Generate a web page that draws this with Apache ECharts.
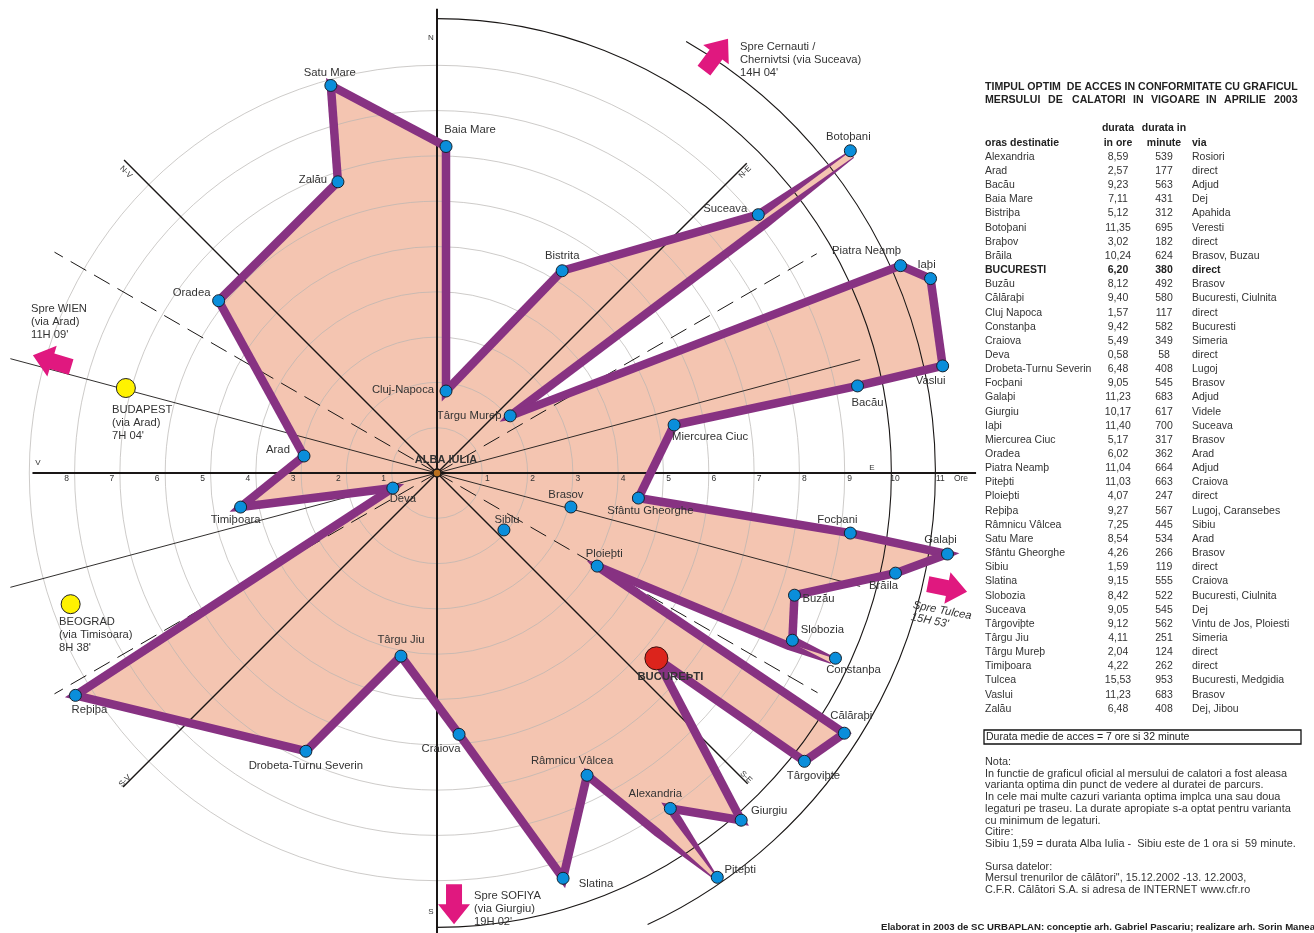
<!DOCTYPE html>
<html>
<head>
<meta charset="utf-8">
<title>Timpul optim de acces</title>
<script src="https://cdn.jsdelivr.net/npm/echarts@6/dist/echarts.min.js"></script>
<style>
  html, body { margin: 0; padding: 0; background: #fff; }
  #chart { width: 1314px; height: 933px; }
</style>
</head>
<body>
<div id="chart"></div>
<script>
// polygon vertices, clockwise from north: radius in hours, bearing in degrees
// names with * are the blunt second corner of a narrow tip and carry no dot
const routeCities = ['Baia Mare', 'Cluj-Napoca', 'Bistrita', 'Suceava', 'Botoþani', 'Botoþani*', 'Târgu Mureþ', 'Piatra Neamþ', 'Iaþi', 'Vaslui', 'Bacău', 'Miercurea Ciuc', 'Sfântu Gheorghe', 'Focþani', 'Galaþi', 'Brăila', 'Buzău', 'Slobozia', 'Constanþa', 'Constanþa*', 'Ploieþti', 'Călăraþi', 'Târgoviþte', 'BUCUREÞTI', 'Giurgiu', 'Alexandria', 'Piteþti', 'Piteþti*', 'Râmnicu Vâlcea', 'Slatina', 'Craiova', 'Târgu Jiu', 'Drobeta-Turnu Severin', 'Reþiþa', 'Deva', 'Timiþoara', 'Arad', 'Oradea', 'Zalău', 'Satu Mare']
const routeRadius = [7.21, 1.82, 5.25, 9.10, 11.57, 11.53, 2.05, 11.21, 11.71, 11.41, 9.48, 5.34, 4.48, 9.22, 11.41, 10.36, 8.34, 8.67, 9.70, 9.65, 4.09, 10.67, 10.31, 6.34, 10.19, 9.02, 10.86, 10.77, 7.45, 9.37, 5.79, 4.12, 6.79, 9.37, 1.03, 4.40, 2.96, 6.14, 6.79, 8.87]
const routeBearing = [1.58, 6.26, 31.75, 51.2, 52.06, 52.87, 52.02, 65.9, 68.5, 78.04, 78.3, 78.55, 97.09, 98.27, 99.02, 102.32, 108.87, 115.2, 114.93, 115.8, 120.17, 122.57, 128.12, 130.19, 138.78, 145.18, 145.27, 145.8, 153.6, 162.72, 175.18, 191.13, 205.23, 238.41, 251.18, 260.16, 277.28, 308.27, 341.21, 344.68]

// cities inside the polygon and foreign capitals
const innerCities = ['Brasov', 'Sibiu']
const innerRadius = [3.05, 1.94]
const innerBearing = [104.24, 130.39]
const capitalRadius = [7.12, 8.59]
const capitalBearing = [285.28, 250.3]

// spokes: [bearing, length in hours]
const mainSpokes = [[0, 10.25], [90, 11.9], [180, 10.3], [270, 8.93]]
const diagonalSpokes = [[45, 9.67], [135, 9.7], [225, 9.8], [315, 9.77]]
const thinSpokes = [[75, 9.67], [105, 9.67], [255, 9.75], [285, 9.75]]
const dashedSpokes = [[60, 9.68], [120, 9.7], [240, 9.75], [300, 9.75]]

// outer black arcs: [ring, from bearing, to bearing]
const outerArcs = [[10.03, 0, 180], [11, 30, 155]]

const eastTicks = [1, 2, 3, 4, 5, 6, 7, 8, 9, 10, 11]
const westTicks = [1, 2, 3, 4, 5, 6, 7, 8]

// direction arrows: [radius, bearing of the arrow centre, heading]
const arrowRadius = [8.85, 11.1, 11.55, 9.53]
const arrowBearing = [286.2, 33.7, 102.7, 177.74]
const arrowHeading = [287, 37, 101, 180]

// table
const tableCities = ['Alexandria', 'Arad', 'Bacău', 'Baia Mare', 'Bistriþa', 'Botoþani', 'Braþov', 'Brăila', 'BUCURESTI', 'Buzău', 'Călăraþi', 'Cluj Napoca', 'Constanþa', 'Craiova', 'Deva', 'Drobeta-Turnu Severin', 'Focþani', 'Galaþi', 'Giurgiu', 'Iaþi', 'Miercurea Ciuc', 'Oradea', 'Piatra Neamþ', 'Piteþti', 'Ploieþti', 'Reþiþa', 'Râmnicu Vâlcea', 'Satu Mare', 'Sfântu Gheorghe', 'Sibiu', 'Slatina', 'Slobozia', 'Suceava', 'Târgoviþte', 'Târgu Jiu', 'Târgu Mureþ', 'Timiþoara', 'Tulcea', 'Vaslui', 'Zalău']
const tableHours = ['8,59', '2,57', '9,23', '7,11', '5,12', '11,35', '3,02', '10,24', '6,20', '8,12', '9,40', '1,57', '9,42', '5,49', '0,58', '6,48', '9,05', '11,23', '10,17', '11,40', '5,17', '6,02', '11,04', '11,03', '4,07', '9,27', '7,25', '8,54', '4,26', '1,59', '9,15', '8,42', '9,05', '9,12', '4,11', '2,04', '4,22', '15,53', '11,23', '6,48']
const tableMinutes = [539, 177, 563, 431, 312, 695, 182, 624, 380, 492, 580, 117, 582, 349, 58, 408, 545, 683, 617, 700, 317, 362, 664, 663, 247, 567, 445, 534, 266, 119, 555, 522, 545, 562, 251, 124, 262, 953, 683, 408]
const tableVia = ['Rosiori', 'direct', 'Adjud', 'Dej', 'Apahida', 'Veresti', 'direct', 'Brasov, Buzau', 'direct', 'Brasov', 'Bucuresti, Ciulnita', 'direct', 'Bucuresti', 'Simeria', 'direct', 'Lugoj', 'Brasov', 'Adjud', 'Videle', 'Suceava', 'Brasov', 'Arad', 'Adjud', 'Craiova', 'direct', 'Lugoj, Caransebes', 'Sibiu', 'Arad', 'Brasov', 'direct', 'Craiova', 'Bucuresti, Ciulnita', 'Dej', 'Vintu de Jos, Ploiesti', 'Simeria', 'direct', 'direct', 'Bucuresti, Medgidia', 'Brasov', 'Dej, Jibou']

const noteLines = ['Nota:', 'In functie de graficul oficial al mersului de calatori a fost aleasa', 'varianta optima din punct de vedere al duratei de parcurs.', 'In cele mai multe cazuri varianta optima implca una sau doua', 'legaturi pe traseu. La durate apropiate s-a optat pentru varianta', 'cu minimum de legaturi.', 'Citire:', 'Sibiu 1,59 = durata Alba Iulia -  Sibiu este de 1 ora si  59 minute.']
const sourceLines = ['Sursa datelor:', 'Mersul trenurilor de călători", 15.12.2002 -13. 12.2003,', 'C.F.R. Călători S.A. si adresa de INTERNET www.cfr.ro']

// label centre relative to its dot, in pixels
const labelOffsets = {
  'Baia Mare': [24, -17], 'Cluj-Napoca': [-43, -1], 'Bistrita': [0, -15], 'Suceava': [-33, -6],
  'Botoþani': [-2, -14], 'Târgu Mureþ': [-41, 0], 'Piatra Neamþ': [-34, -15], 'Iaþi': [-4, -14],
  'Vaslui': [-12, 15], 'Bacău': [10, 17], 'Miercurea Ciuc': [36, 12], 'Sfântu Gheorghe': [12, 13],
  'Focþani': [-13, -13], 'Galaþi': [-7, -14], 'Brăila': [-12, 13], 'Buzău': [24, 4],
  'Slobozia': [30, -10], 'Constanþa': [18, 12], 'Ploieþti': [7, -12], 'Călăraþi': [7, -17],
  'Târgoviþte': [9, 15], 'BUCUREÞTI': [14, 19], 'Giurgiu': [28, -9], 'Alexandria': [-15, -15],
  'Piteþti': [23, -7], 'Râmnicu Vâlcea': [-15, -14], 'Slatina': [33, 6], 'Craiova': [-18, 15],
  'Târgu Jiu': [0, -16], 'Drobeta-Turnu Severin': [0, 15], 'Reþiþa': [14, 15], 'Deva': [10, 11],
  'Timiþoara': [-5, 13], 'Arad': [-26, -6], 'Oradea': [-27, -8], 'Zalău': [-25, -2],
  'Satu Mare': [-1, -13], 'Brasov': [-5, -12], 'Sibiu': [3, -10]
}

const FONT = '"Liberation Sans", Arial, sans-serif'
const TEXT = '#333333'
const PURPLE = '#873282'
const PINK = '#f4c5b1'
const BAND = 8.5
const MITER = 12
// the band narrows towards these tips: [width at the tip, taper length]
const tips = {
  'Botoþani': [1, 110], 'Botoþani*': [1, 110],
  'Constanþa': [1, 46], 'Constanþa*': [1, 46],
  'Piteþti': [1.5, 70], 'Piteþti*': [1.5, 70]
}
const ARROW = 'path://M0,-20 L16,0 L8,0 L8,20 L-8,20 L-8,0 L-16,0 Z'

const chart = echarts.init(document.getElementById('chart'))

const routeData = routeRadius.map((r, i) => [r, routeBearing[i]])

function renderFill(params, api) {
  if (params.dataIndex !== 0) return null
  return {
    type: 'polygon',
    shape: { points: routeData.map(d => api.coord(d)) },
    style: { fill: PINK },
    silent: true
  }
}

function edgeInfo(a, b) {
  const dx = b[0] - a[0]
  const dy = b[1] - a[1]
  const len = Math.hypot(dx, dy)
  return { dir: [dx / len, dy / len], normal: [-dy / len, dx / len], len }
}

function renderBand(params, api) {
  const n = routeData.length
  const i = params.dataIndex
  const prev = api.coord(routeData[(i - 1 + n) % n])
  const a = api.coord(routeData[i])
  const b = api.coord(routeData[(i + 1) % n])
  const tipA = tips[routeCities[i]] || [BAND, 0]
  const tipB = tips[routeCities[(i + 1) % n]] || [BAND, 0]
  const e = edgeInfo(a, b)
  // the short edge across a blunt tip stays thin all along
  const thinEdge = tips[routeCities[i]] && tips[routeCities[(i + 1) % n]]
  const stations = thinEdge
    ? [[0, tipA[0]], [e.len, tipB[0]]]
    : [[0, tipA[0]], [tipA[1], BAND], [e.len - tipB[1], BAND], [e.len, tipB[0]]]
  const left = []
  const right = []
  stations.forEach(s => {
    const px = a[0] + e.dir[0] * s[0]
    const py = a[1] + e.dir[1] * s[0]
    left.push([px + e.normal[0] * s[1] / 2, py + e.normal[1] * s[1] / 2])
    right.unshift([px - e.normal[0] * s[1] / 2, py - e.normal[1] * s[1] / 2])
  })
  const children = [{ type: 'polygon', shape: { points: left.concat(right) }, style: { fill: PURPLE } }]

  // outer corner at vertex a
  const p = edgeInfo(prev, a)
  const side = (p.dir[0] * e.dir[1] - p.dir[1] * e.dir[0]) > 0 ? -1 : 1
  const w = tipA[0] / 2
  const mid = [p.normal[0] + e.normal[0], p.normal[1] + e.normal[1]]
  const midLen = Math.hypot(mid[0], mid[1]) || 1
  const cosHalf = midLen / 2
  const reach = Math.min(w / Math.max(cosHalf, 0.01), MITER)
  children.push({
    type: 'polygon',
    shape: {
      points: [
        a,
        [a[0] + side * p.normal[0] * w, a[1] + side * p.normal[1] * w],
        [a[0] + side * mid[0] / midLen * reach, a[1] + side * mid[1] / midLen * reach],
        [a[0] + side * e.normal[0] * w, a[1] + side * e.normal[1] * w]
      ]
    },
    style: { fill: PURPLE }
  })
  return { type: 'group', children, silent: true }
}

function spokeSeries(name, rows, width, dash) {
  return {
    name,
    type: 'custom',
    coordinateSystem: 'polar',
    z: 2,
    silent: true,
    data: rows.map(s => [s[1], s[0]]),
    encode: { radius: 0, angle: 1 },
    renderItem: (params, api) => {
      const from = api.coord([0, api.value(1)])
      const to = api.coord([api.value(0), api.value(1)])
      return {
        type: 'line',
        shape: { x1: from[0], y1: from[1], x2: to[0], y2: to[1] },
        style: { stroke: '#1a1716', lineWidth: width, lineDash: dash, fill: null }
      }
    }
  }
}

function cityLabel(name, value) {
  const bold = name === 'BUCUREÞTI'
  return {
    name,
    value,
    label: {
      show: true,
      position: 'inside',
      offset: labelOffsets[name],
      formatter: name,
      fontFamily: FONT,
      fontSize: 11.3,
      fontWeight: bold ? 'bold' : 'normal',
      color: TEXT
    }
  }
}

function tickSeries(ticks, bearing, offset) {
  return {
    type: 'scatter',
    coordinateSystem: 'polar',
    z: 6,
    silent: true,
    symbolSize: 1,
    itemStyle: { color: 'transparent', opacity: 1 },
    data: ticks.map(t => [t, bearing]),
    label: {
      show: true,
      position: 'inside',
      offset,
      formatter: p => String(p.value[0]),
      fontFamily: FONT,
      fontSize: 8.5,
      color: TEXT
    }
  }
}

function text(x, y, str, opt) {
  const o = opt || {}
  return {
    type: 'text',
    x,
    y: y + 1,
    rotation: o.rotation || 0,
    z: 10,
    silent: true,
    style: {
      text: str,
      fontFamily: FONT,
      fontSize: o.size || 11.2,
      fontWeight: o.weight || 'normal',
      fontStyle: o.style || 'normal',
      fill: o.color || TEXT,
      align: o.align || 'left',
      verticalAlign: 'middle'
    }
  }
}

const graphics = []

// compass marks and free annotations
const compass = [['N', 431, 37, 0], ['E', 872, 467, 0], ['S', 431, 911, 0], ['V', 38, 462, 0],
  ['N-E', 745, 171, Math.PI / 4], ['S-E', 746, 776, -Math.PI / 4], ['S-V', 125, 780, Math.PI / 4], ['N-V', 126, 171, -Math.PI / 4]]
compass.forEach(c => graphics.push(text(c[1], c[2], c[0], { size: 8, align: 'center', rotation: c[3] })))
graphics.push(text(961, 478, 'Ore', { size: 8.5, align: 'center' }))
graphics.push(text(446, 459, 'ALBA IULIA', { size: 11, weight: 'bold', align: 'center' }))

const notes = [
  [31, 308, ['Spre WIEN', '(via Arad)', "11H 09'"]],
  [740, 46, ['Spre Cernauti /', 'Chernivtsi (via Suceava)', "14H 04'"]],
  [112, 409, ['BUDAPEST', '(via Arad)', "7H 04'"]],
  [59, 621, ['BEOGRAD', '(via Timisoara)', "8H 38'"]],
  [474, 895, ['Spre SOFIYA', '(via Giurgiu)', "19H 02'"]]
]
notes.forEach(n => n[2].forEach((line, i) => graphics.push(text(n[0], n[1] + i * 13, line))))
graphics.push(text(913, 604, 'Spre Tulcea', { style: 'italic', rotation: -0.19 }))
graphics.push(text(911, 616, "15H 53'", { style: 'italic', rotation: -0.19 }))

// table title, second line is spread out word by word
graphics.push(text(985, 86, 'TIMPUL OPTIM  DE ACCES IN CONFORMITATE CU GRAFICUL', { size: 10.6, weight: 'bold', color: '#222' }))
const titleWords = ['MERSULUI', 'DE', 'CALATORI', 'IN', 'VIGOARE', 'IN', 'APRILIE', '2003']
const titleWordX = [985, 1048, 1072, 1133, 1151, 1206, 1224, 1274]
titleWords.forEach((w, i) => graphics.push(text(titleWordX[i], 99, w, { size: 10.6, weight: 'bold', color: '#222' })))

const head = { weight: 'bold', color: '#222', size: 10.5 }
graphics.push(text(1118, 127, 'durata', Object.assign({ align: 'center' }, head)))
graphics.push(text(1164, 127, 'durata in', Object.assign({ align: 'center' }, head)))
graphics.push(text(985, 142, 'oras destinatie', head))
graphics.push(text(1118, 142, 'in ore', Object.assign({ align: 'center' }, head)))
graphics.push(text(1164, 142, 'minute', Object.assign({ align: 'center' }, head)))
graphics.push(text(1192, 142, 'via', head))

tableCities.forEach((city, i) => {
  const y = 156 + i * 14.15
  const bold = city === 'BUCURESTI' ? { weight: 'bold', color: '#222' } : {}
  graphics.push(text(985, y, city, Object.assign({ size: 10.5 }, bold)))
  graphics.push(text(1118, y, tableHours[i], Object.assign({ size: 10.5, align: 'center' }, bold)))
  graphics.push(text(1164, y, String(tableMinutes[i]), Object.assign({ size: 10.5, align: 'center' }, bold)))
  graphics.push(text(1192, y, tableVia[i], Object.assign({ size: 10.5 }, bold)))
})

graphics.push({
  type: 'rect',
  z: 9,
  silent: true,
  shape: { x: 984, y: 730, width: 317, height: 14 },
  style: { fill: '#fff', stroke: '#111', lineWidth: 1.3 }
})
graphics.push(text(986, 736, 'Durata medie de acces = 7 ore si 32 minute', { size: 10.5, color: '#222' }))

noteLines.forEach((line, i) => graphics.push(text(985, 761 + i * 11.7, line, { size: 10.9 })))
sourceLines.forEach((line, i) => graphics.push(text(985, 866 + i * 11.3, line, { size: 10.8 })))
graphics.push(text(881, 926, 'Elaborat in 2003 de SC URBAPLAN: conceptie arh. Gabriel Pascariu; realizare arh. Sorin Manea', { size: 9.6, weight: 'bold', color: '#222' }))

// rings 1-9 are grey, the arcs 10 and 11 are drawn on their own
const RING = '#b8b4b2'
const ringColors = ['transparent', RING, RING, RING, RING, RING, RING, RING, RING, RING, 'transparent', 'transparent', 'transparent']

const option = {
  animation: false,
  backgroundColor: '#ffffff',
  polar: { center: [437, 473], radius: 543.6 },
  angleAxis: {
    type: 'value',
    min: 0,
    max: 360,
    startAngle: 90,
    clockwise: true,
    axisLine: { show: false },
    axisTick: { show: false },
    axisLabel: { show: false },
    splitLine: { show: false }
  },
  radiusAxis: {
    type: 'value',
    min: 0,
    max: 12,
    interval: 1,
    z: 1,
    axisLine: { show: false },
    axisTick: { show: false },
    axisLabel: { show: false },
    splitLine: { show: true, lineStyle: { color: ringColors, width: 0.7 } }
  },
  graphic: { elements: graphics },
  series: [
    {
      name: 'Suprafata',
      type: 'custom',
      coordinateSystem: 'polar',
      z: 0,
      data: routeData,
      encode: { radius: 0, angle: 1 },
      renderItem: renderFill
    },
    spokeSeries('Axe', mainSpokes, 2, null),
    spokeSeries('Diagonale', diagonalSpokes, 1.4, null),
    spokeSeries('Intermediare', thinSpokes, 0.9, null),
    spokeSeries('Punctate', dashedSpokes, 1, [18, 9]),
    {
      name: 'Arce',
      type: 'custom',
      coordinateSystem: 'polar',
      z: 2,
      silent: true,
      data: outerArcs,
      encode: { radius: 0, angle: 1 },
      renderItem: (params, api) => {
        const c = api.coord([0, 0])
        const edge = api.coord([api.value(0), 0])
        const toRad = b => (b - 90) * Math.PI / 180
        return {
          type: 'arc',
          shape: { cx: c[0], cy: c[1], r: c[1] - edge[1], startAngle: toRad(api.value(1)), endAngle: toRad(api.value(2)), clockwise: true },
          style: { stroke: '#1a1716', lineWidth: 1.1, fill: null }
        }
      }
    },
    {
      name: 'Trasee',
      type: 'custom',
      coordinateSystem: 'polar',
      z: 3,
      data: routeData,
      encode: { radius: 0, angle: 1 },
      renderItem: renderBand
    },
    {
      name: 'Orase',
      type: 'scatter',
      coordinateSystem: 'polar',
      z: 4,
      silent: true,
      symbolSize: 12,
      itemStyle: { color: '#0a8edb', borderColor: '#17222b', borderWidth: 1, opacity: 1 },
      data: routeCities.map((c, i) => {
        if (c.endsWith('*')) return null
        const item = cityLabel(c, [routeRadius[i], routeBearing[i]])
        if (c === 'BUCUREÞTI') {
          item.symbolSize = 23
          item.itemStyle = { color: '#dc241c', borderColor: '#3a1210', borderWidth: 1, opacity: 1 }
        }
        return item
      }).filter(Boolean).concat(innerCities.map((c, i) => cityLabel(c, [innerRadius[i], innerBearing[i]])))
    },
    {
      name: 'Capitale',
      type: 'scatter',
      coordinateSystem: 'polar',
      z: 4,
      silent: true,
      symbolSize: 19,
      itemStyle: { color: '#fff200', borderColor: '#222', borderWidth: 1, opacity: 1 },
      data: capitalRadius.map((r, i) => [r, capitalBearing[i]])
    },
    {
      name: 'Directii',
      type: 'scatter',
      coordinateSystem: 'polar',
      z: 4,
      silent: true,
      symbol: ARROW,
      symbolSize: [32, 40],
      itemStyle: { color: '#e0187f', opacity: 1 },
      data: arrowRadius.map((r, i) => ({ value: [r, arrowBearing[i]], symbolRotate: -arrowHeading[i] }))
    },
    {
      name: 'Centru',
      type: 'scatter',
      coordinateSystem: 'polar',
      z: 5,
      silent: true,
      symbolSize: 8,
      itemStyle: { color: '#b9701f', borderColor: '#1a1716', borderWidth: 1.5, opacity: 1 },
      data: [[0, 0]]
    },
    tickSeries(eastTicks, 90, [5, 6]),
    tickSeries(westTicks, 270, [-8, 6])
  ]
}

chart.setOption(option)
</script>
</body>
</html>
